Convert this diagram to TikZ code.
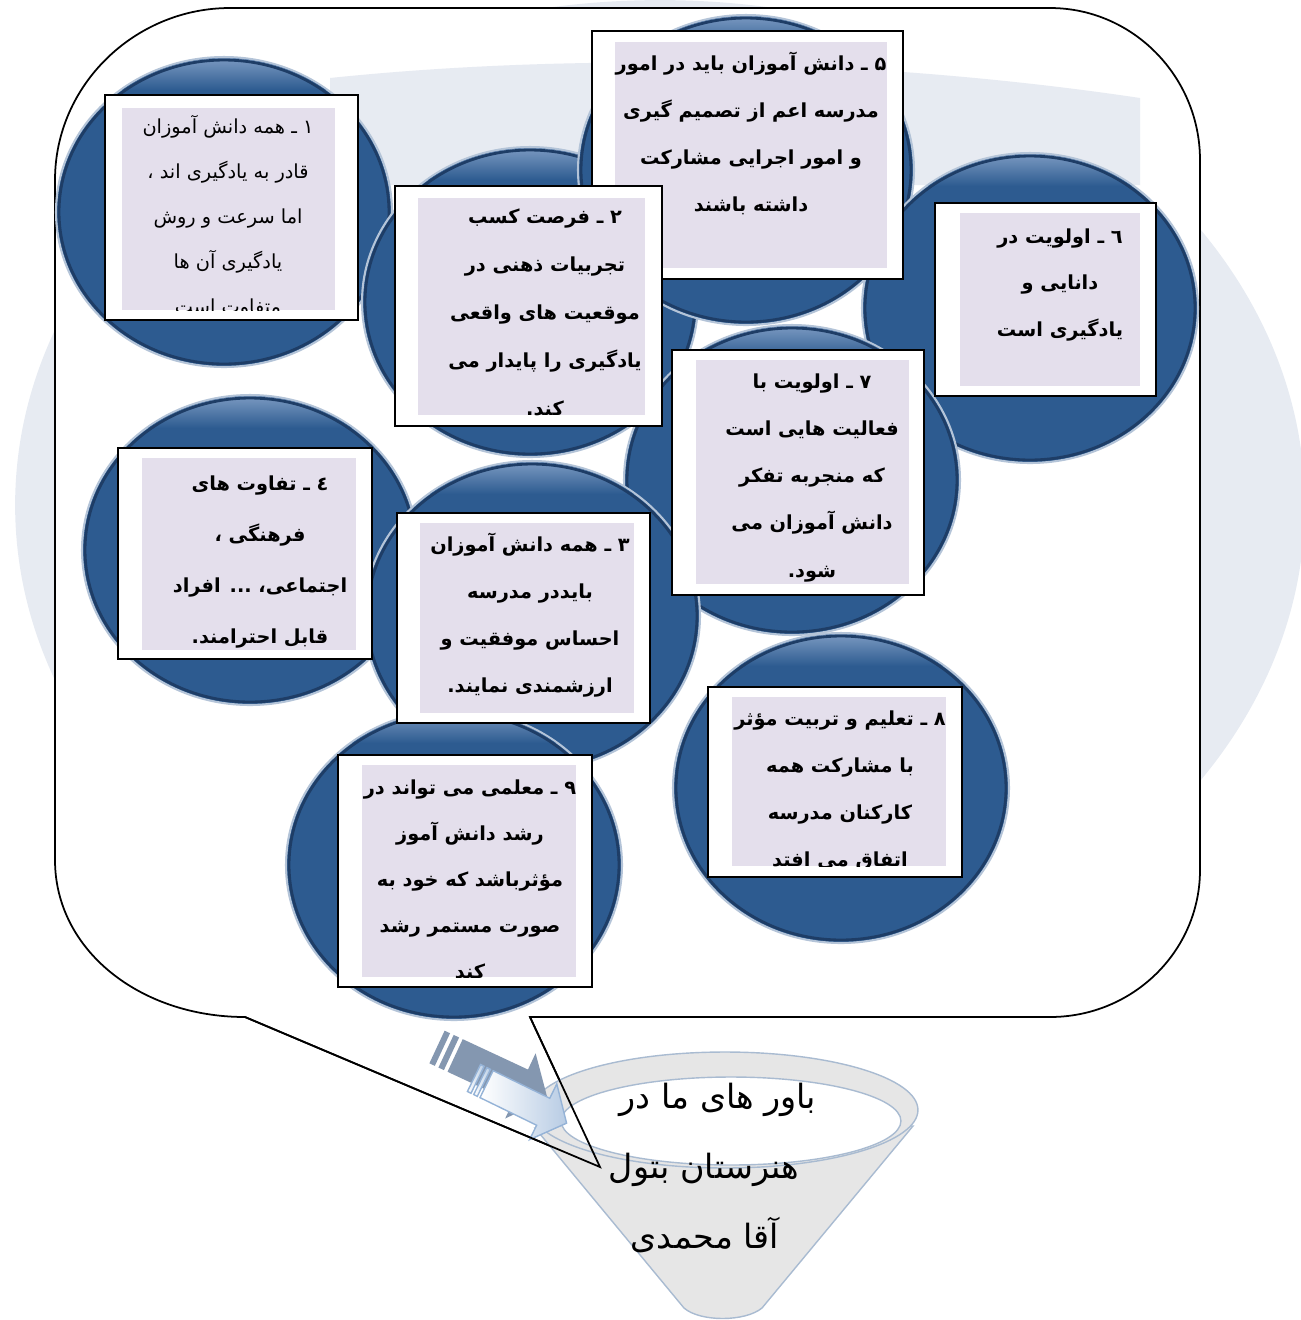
\documentclass[tikz,border=0pt]{standalone}
\usepackage{fontspec}
\newfontfamily\arabicfont[Script=Arabic]{DejaVu Sans}
\TeXXeTstate=1
\usetikzlibrary{shapes.geometric, calc}

\definecolor{circblue}{HTML}{2D5B90}
\definecolor{circedge}{HTML}{1E3D66}
\definecolor{circlight}{HTML}{7F9DC4}
\definecolor{circrim}{HTML}{B4C4D8}
\definecolor{boxfill}{HTML}{E4DFEC}
\definecolor{palebg}{HTML}{E7EBF2}
\definecolor{funnelgray}{HTML}{E6E6E6}
\definecolor{funneledge}{HTML}{A9BBD1}
\definecolor{arrowgray}{HTML}{8497B0}
\definecolor{arrowblue}{HTML}{B8CCE4}
\definecolor{arrowedge}{HTML}{95B3D7}

\newcommand{\fa}[1]{\beginR#1\endR}
\newcommand{\tdots}{...}

\tikzset{
  bubble/.style={ellipse, fill=circblue, draw=circrim, line width=1.2pt,
    minimum width=6.72cm, minimum height=6.2cm, inner sep=0pt},
  ring/.style={circedge, line width=1.6pt},
  outerbox/.style={rectangle, draw=black, line width=1.2pt, fill=white, inner sep=0pt},
  innerbox/.style={rectangle, fill=boxfill, inner sep=0pt},
  txt/.style={font=\arabicfont\bfseries\fontsize{11}{13}\selectfont, anchor=base, inner sep=0pt},
  txtlight/.style={txt, font=\arabicfont\fontsize{11}{13}\selectfont},
  funneltxt/.style={font=\arabicfont\fontsize{19}{22}\selectfont, anchor=base, inner sep=0pt},
  callout/.style={draw=black, line width=1pt, fill=white},
}

\begin{document}
\begin{tikzpicture}[x=0.02cm, y=-0.02cm]
\useasboundingbox (0,0) rectangle (1301,1320);

% pale backdrop
\fill[palebg] (660,505) ellipse [x radius=12.9cm, y radius=10.1cm];

% speech bubble
\coordinate (tailL) at (245,1017);
\coordinate (tailR) at (530,1017);
\coordinate (tailtip) at (600,1167);
\draw[callout] (230,8) -- (1050,8) .. controls (1133,8) and (1200,77) .. (1200,160)
  -- (1200,870) .. controls (1200,951) and (1133,1017) .. (1050,1017)
  -- (tailR) -- (tailtip) -- (tailL) .. controls (140,1017) and (55,950) .. (55,860)
  -- (55,180) .. controls (55,85) and (135,8) .. (230,8) -- cycle;
\fill[palebg] (330,78) .. controls (600,50) and (900,62) .. (1140,98) -- (1140,185) -- (330,185) -- cycle;

% circles
\foreach \c/\x/\y in {c1/224/212, c2/530/302, c5/746/170, c6/1030/308, c7/792/480, c4/250/550, c3/532/616, c8/841/788, c9/454/865}{
  \node[bubble] (\c) at (\x,\y) {};
  \begin{scope}
  \clip (\c.center) ellipse [x radius=3.34cm, y radius=3.08cm];
  \shade[top color=circlight, bottom color=circblue] ($(\c.north)+(-175,0)$) rectangle ($(\c.north)+(175,34)$);
  \end{scope}
  \draw[ring] (\c.center) ellipse [x radius=3.3cm, y radius=3.04cm];
}

% box 1
\node[outerbox, minimum width=5.06cm, minimum height=4.5cm] (b1) at (231.5,207.5) {};
\node[innerbox, minimum width=4.26cm, minimum height=4.04cm] (i1) at (228.5,209) {};
\begin{scope}
\clip (i1.south west) rectangle (i1.north east);
\foreach \t [count=\i from 0] in {{۱ ـ همه دانش آموزان}, {قادر به یادگیری اند ،}, {اما سرعت و روش}, {یادگیری آن ها}, {متفاوت است}}
  \node[txtlight] (l1\i) at (228,{133+45*\i}) {\fa{\t}};
\end{scope}

% box 5
\node[outerbox, minimum width=6.22cm, minimum height=4.96cm] (b5) at (747.5,155) {};
\node[innerbox, minimum width=5.44cm, minimum height=4.52cm] (i5) at (751,155) {};
\begin{scope}
\clip (i5.south west) rectangle (i5.north east);
\foreach \t [count=\i from 0] in {{۵ ـ دانش آموزان باید در امور}, {مدرسه اعم از تصمیم گیری}, {و امور اجرایی مشارکت}, {داشته باشند}}
  \node[txt] (l5\i) at (751,{70+47*\i}) {\fa{\t}};
\end{scope}

% box 2
\node[outerbox, minimum width=5.34cm, minimum height=4.8cm] (b2) at (528.5,306) {};
\node[innerbox, minimum width=4.54cm, minimum height=4.34cm] (i2) at (531.5,306.5) {};
\begin{scope}
\clip (i2.south west) rectangle (i2.north east);
\foreach \t [count=\i from 0] in {{۲ ـ فرصت کسب}, {تجربیات ذهنی در}, {موقعیت های واقعی}, {یادگیری را پایدار می}, {کند.}}
  \node[txt] (l2\i) at (545,{223+48*\i}) {\fa{\t}};
\end{scope}

% box 6
\node[outerbox, minimum width=4.42cm, minimum height=3.86cm] (b6) at (1045.5,299.5) {};
\node[innerbox, minimum width=3.6cm, minimum height=3.46cm] (i6) at (1050,299.5) {};
\begin{scope}
\clip (i6.south west) rectangle (i6.north east);
\foreach \t [count=\i from 0] in {{٦ ـ اولویت در}, {دانایی و}, {یادگیری است}}
  \node[txt] (l6\i) at (1060,{243+46.5*\i}) {\fa{\t}};
\end{scope}

% box 7
\node[outerbox, minimum width=5.04cm, minimum height=4.9cm] (b7) at (798,472.5) {};
\node[innerbox, minimum width=4.26cm, minimum height=4.48cm] (i7) at (802.5,472) {};
\begin{scope}
\clip (i7.south west) rectangle (i7.north east);
\foreach \t [count=\i from 0] in {{۷ ـ اولویت با}, {فعالیت هایی است}, {که منجربه تفکر}, {دانش آموزان می}, {شود.}}
  \node[txt] (l7\i) at (812,{388+47.3*\i}) {\fa{\t}};
\end{scope}

% box 4
\node[outerbox, minimum width=5.08cm, minimum height=4.22cm] (b4) at (245,553.5) {};
\node[innerbox, minimum width=4.28cm, minimum height=3.84cm] (i4) at (249,554) {};
\begin{scope}
\clip (i4.south west) rectangle (i4.north east);
\foreach \t [count=\i from 0] in {{٤ ـ تفاوت های}, {فرهنگی ،}, {اجتماعی، \tdots{} افراد}, {قابل احترامند.}}
  \node[txt] (l4\i) at (260,{490+51*\i}) {\fa{\t}};
\end{scope}

% box 3
\node[outerbox, minimum width=5.06cm, minimum height=4.2cm] (b3) at (523.5,618) {};
\node[innerbox, minimum width=4.28cm, minimum height=3.8cm] (i3) at (527,618) {};
\begin{scope}
\clip (i3.south west) rectangle (i3.north east);
\foreach \t [count=\i from 0] in {{۳ ـ همه دانش آموزان}, {بایددر مدرسه}, {احساس موفقیت و}, {ارزشمندی نمایند.}}
  \node[txt] (l3\i) at (530,{551+47*\i}) {\fa{\t}};
\end{scope}

% box 8
\node[outerbox, minimum width=5.08cm, minimum height=3.8cm] (b8) at (835,782) {};
\node[innerbox, minimum width=4.28cm, minimum height=3.38cm] (i8) at (839,781.5) {};
\begin{scope}
\clip (i8.south west) rectangle (i8.north east);
\foreach \t [count=\i from 0] in {{۸ ـ تعلیم و تربیت مؤثر}, {با مشارکت همه}, {کارکنان مدرسه}, {اتفاق می افتد}}
  \node[txt] (l8\i) at (840,{725+47*\i}) {\fa{\t}};
\end{scope}

% box 9
\node[outerbox, minimum width=5.08cm, minimum height=4.64cm] (b9) at (465,871) {};
\node[innerbox, minimum width=4.28cm, minimum height=4.24cm] (i9) at (469,871) {};
\begin{scope}
\clip (i9.south west) rectangle (i9.north east);
\foreach \t [count=\i from 0] in {{۹ ـ معلمی می تواند در}, {رشد دانش آموز}, {مؤثرباشد که خود به}, {صورت مستمر رشد}, {کند}}
  \node[txt] (l9\i) at (470,{794+46*\i}) {\fa{\t}};
\end{scope}

% funnel
\fill[funnelgray, draw=funneledge, line width=0.8pt] (535,1128) -- (684,1308) .. controls (700,1322) and (745,1322) .. (762,1308) -- (913,1126) -- cycle;
\filldraw[fill=funnelgray, draw=funneledge, line width=0.8pt] (725,1110) ellipse [x radius=3.86cm, y radius=1.16cm];
\filldraw[fill=white, draw=funneledge, line width=0.8pt] (731,1121) ellipse [x radius=3.4cm, y radius=0.88cm];
\node[funneltxt] (f1) at (718,1108) {\fa{باور های ما در}};
\node[funneltxt] (f2) at (704,1178) {\fa{هنرستان بتول}};
\node[funneltxt] (f3) at (705,1248) {\fa{آقا محمدی}};

% striped arrows
\begin{scope}[shift={(437,1047)}, rotate=-25]
\fill[arrowgray] (0,-18) rectangle (6,18) (10,-18) rectangle (16,18);
\fill[arrowgray] (20,-18) -- (92,-18) -- (92,-36) -- (122,0) -- (92,36) -- (92,18) -- (20,18) -- cycle;
\end{scope}
\begin{scope}[shift={(474,1078)}, rotate=-26]
\shade[left color=white, right color=arrowblue, draw=arrowedge, line width=0.8pt] (0,-15) rectangle (4,15);
\shade[left color=white, right color=arrowblue, draw=arrowedge, line width=0.8pt] (7,-15) rectangle (11,15);
\shade[left color=white, right color=arrowblue, draw=arrowedge, line width=0.8pt] (14,-15) -- (77,-15) -- (77,-31) -- (103,0) -- (77,31) -- (77,15) -- (14,15) -- cycle;
\end{scope}

% tail of the bubble on top
\draw[black, line width=1pt] (tailL) -- (tailtip) -- (tailR);
\end{tikzpicture}
\end{document}
